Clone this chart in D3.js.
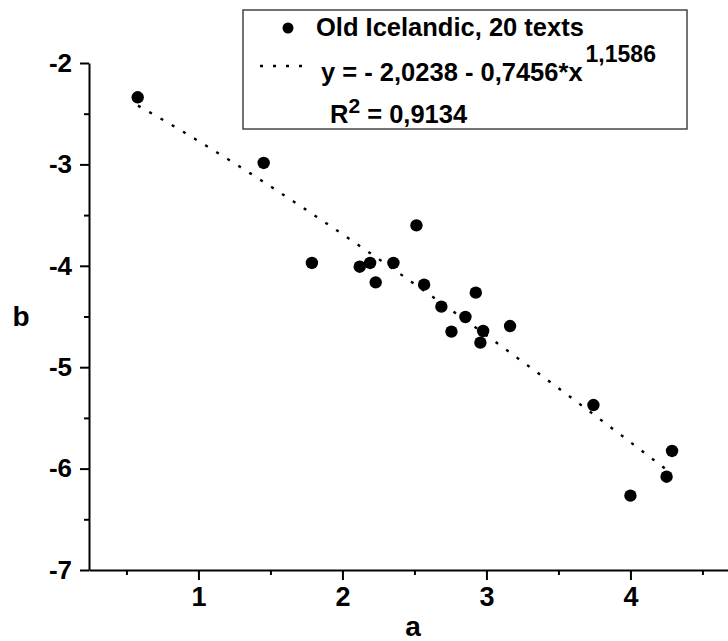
<!DOCTYPE html>
<html>
<head>
<meta charset="utf-8">
<script src="https://cdn.jsdelivr.net/npm/d3@7"></script>
<style>
  body { margin: 0; background: white; }
  svg { display: block; font-family: Arial, "Liberation Sans", sans-serif; font-weight: bold; }
</style>
</head>
<body>
<div id="ChartContainer"></div>
<script>
// values
const aValues = [0.578, 1.453, 1.788, 2.120, 2.192, 2.231, 2.354, 2.514, 2.567, 2.687,
                 2.757, 2.854, 2.926, 2.977, 2.958, 3.164, 3.743, 4.289, 4.251, 4.000];
const bValues = [-2.338, -2.986, -3.972, -4.009, -3.972, -4.163, -3.972, -3.601, -4.186, -4.403,
                 -4.649, -4.505, -4.265, -4.643, -4.758, -4.594, -5.373, -5.826, -6.080, -6.267];
const xMajorTicks = [1, 2, 3, 4];
const xMinorTicks = [0.5, 1.5, 2.5, 3.5, 4.5];
const yMajorTicks = [-7, -6, -5, -4, -3, -2];
const yMinorTicks = [-6.5, -5.5, -4.5, -3.5, -2.5];
// y = c0 + c1 * x^c2, shown in the legend
const fitCoef = [-2.0238, -0.7456, 1.1586];
const fitRange = [0.58, 4.25];
const seriesName = 'Old Icelandic, 20 texts';
const rSquared = '0,9134';

function Comma(v) { return d3.format('.4f')(v).replace('.', ','); }

function DrawChart()
{
    const Width = 728, Height = 641;
    const Svg = d3.select('#ChartContainer')
                  .append('svg')
                  .attr('width', Width)
                  .attr('height', Height);

    const xScale = d3.scaleLinear().domain([0.24, 4.7]).range([89, 89 + 4.46 * 144]);
    const yScale = d3.scaleLinear().domain([-7, -2]).range([570, 63]);

    // x axis
    const xAxis = Svg.append('g').attr('transform', 'translate(0,570)');
    xAxis.call(d3.axisBottom(xScale).tickValues(xMajorTicks).tickSize(10).tickSizeOuter(0).tickPadding(7).tickFormat(d => String(d)));
    xAxis.selectAll('.tick line').attr('stroke-width', 2);
    xAxis.select('.domain').attr('stroke-width', 2);
    xAxis.selectAll('text').style('font-size', '27px').attr('fill', '#000');
    Svg.append('g').attr('transform', 'translate(0,570)')
       .call(d3.axisBottom(xScale).tickValues(xMinorTicks).tickSize(5).tickSizeOuter(0).tickFormat(''))
       .call(g => g.select('.domain').remove())
       .call(g => g.selectAll('.tick line').attr('stroke-width', 2));

    // y axis
    const yAxis = Svg.append('g').attr('transform', 'translate(89,0)');
    yAxis.call(d3.axisLeft(yScale).tickValues(yMajorTicks).tickSize(9).tickSizeOuter(0).tickPadding(8).tickFormat(d => String(d)));
    yAxis.selectAll('.tick line').attr('stroke-width', 2);
    yAxis.select('.domain').attr('stroke-width', 2);
    yAxis.selectAll('text').style('font-size', '26px').attr('fill', '#000');
    Svg.append('g').attr('transform', 'translate(89,0)')
       .call(d3.axisLeft(yScale).tickValues(yMinorTicks).tickSize(5).tickSizeOuter(0).tickFormat(''))
       .call(g => g.select('.domain').remove())
       .call(g => g.selectAll('.tick line').attr('stroke-width', 2));

    // axis titles
    Svg.append('text').attr('x', 413).attr('y', 636).attr('text-anchor', 'middle')
       .style('font-size', '28px').text('a');
    Svg.append('text').attr('x', 21).attr('y', 326).attr('text-anchor', 'middle')
       .style('font-size', '28px').text('b');

    // fitted curve
    const fitX = d3.range(fitRange[0], fitRange[1] + 0.001, 0.02);
    const line = d3.line()
                   .x(d => xScale(d))
                   .y(d => yScale(fitCoef[0] + fitCoef[1] * Math.pow(d, fitCoef[2])));
    Svg.append('path')
       .datum(fitX)
       .attr('d', line)
       .attr('fill', 'none')
       .attr('stroke', '#000')
       .attr('stroke-width', 2.4)
       .attr('stroke-dasharray', '3,10');

    // points
    Svg.append('g').selectAll('circle')
       .data(aValues.map((a, i) => ({ a: a, b: bValues[i] })))
       .enter()
       .append('circle')
       .attr('cx', d => xScale(d.a))
       .attr('cy', d => yScale(d.b))
       .attr('r', 6.2)
       .attr('fill', '#000');

    // legend
    const legend = Svg.append('g');
    legend.append('rect')
          .attr('x', 243).attr('y', 10).attr('width', 444).attr('height', 119)
          .attr('fill', 'white').attr('stroke', '#444').attr('stroke-width', 1.5);
    legend.append('circle').attr('cx', 288).attr('cy', 28).attr('r', 5.5).attr('fill', '#000');
    legend.append('text').attr('x', 316).attr('y', 36).style('font-size', '25.5px').text(seriesName);
    legend.append('line')
          .attr('x1', 260).attr('x2', 305).attr('y1', 66).attr('y2', 66)
          .attr('stroke', '#000').attr('stroke-width', 2.4).attr('stroke-dasharray', '3,10');
    const eq = legend.append('text').attr('x', 321).attr('y', 81).style('font-size', '25.5px');
    eq.append('tspan').text(`y = - ${Comma(-fitCoef[0])} - ${Comma(-fitCoef[1])}*x`);
    eq.append('tspan').attr('dx', 3).attr('dy', -19).style('font-size', '23px')
      .text(Comma(fitCoef[2]));
    const r2 = legend.append('text').attr('x', 330).attr('y', 123).style('font-size', '25.5px');
    r2.append('tspan').text('R');
    r2.append('tspan').attr('dy', -10).style('font-size', '21px').text('2');
    r2.append('tspan').attr('dy', 10).text(' = ' + rSquared);
}

document.addEventListener('DOMContentLoaded', DrawChart);
</script>
</body>
</html>
